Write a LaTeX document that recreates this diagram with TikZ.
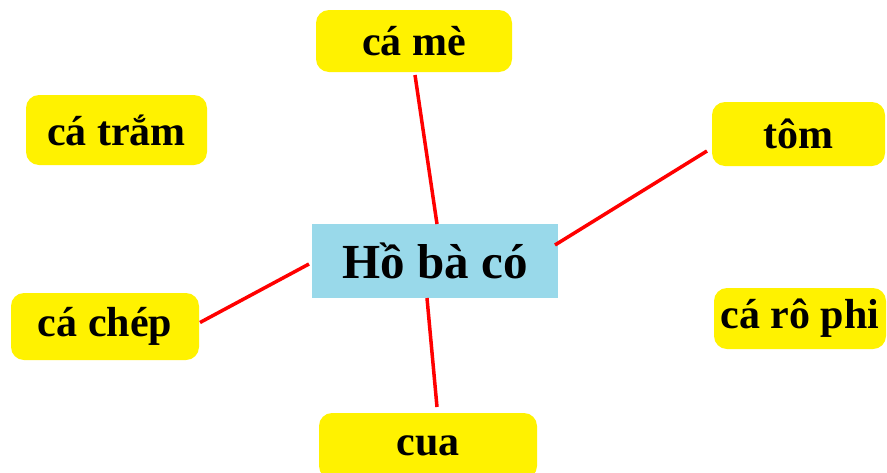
\documentclass[tikz,border=0pt]{standalone}
\usepackage{fontspec}
\setmainfont{Liberation Serif}
\usetikzlibrary{calc}
\definecolor{boxyellow}{RGB}{255,242,0}
\definecolor{boxblue}{RGB}{153,217,234}
\definecolor{linkred}{RGB}{255,0,0}
\tikzset{
  leaf/.style={fill=boxyellow, rounded corners=13pt, inner sep=0pt, outer sep=0pt,
    font=\fontsize{42}{48}\selectfont\bfseries},
  hub/.style={fill=boxblue, inner sep=0pt, outer sep=0pt,
    font=\fontsize{49}{56}\selectfont\bfseries},
  link/.style={draw=linkred, line width=3.5pt}
}
\begin{document}
\begin{tikzpicture}[x=1pt,y=-1pt]
\useasboundingbox (0,0) rectangle (887,472);
\clip (0,0) rectangle (887,472);
\node[hub, minimum width=246pt, minimum height=74pt] (ho) at (435,261) {Hồ bà có};
\node[leaf, minimum width=196pt, minimum height=62pt] (came) at (414,41) {cá mè};
\node[leaf, minimum width=181pt, minimum height=70pt] (tram) at (116.5,130) {cá trắm};
\node[leaf, minimum width=173pt, minimum height=64pt] (tom) at (798.5,134) {tôm};
\node[leaf, minimum width=188pt, minimum height=67pt] (chep) at (105,326.5) {cá chép};
\node[leaf, minimum width=172pt, minimum height=61pt] (rophi) at (800,318.5) {cá rô phi};
\node[leaf, minimum width=218pt, minimum height=66pt] (cua) at (428,446) {cua};
\draw[link] ($(came.south)+(1,3)$) -- ($(ho.north)+(2,0)$);
\draw[link] ($(tom.west)+(-5,17)$) -- ($(ho.east)+(-3,-16)$);
\draw[link] ($(chep.east)+(1,-4)$) -- ($(ho.west)+(-3,3)$);
\draw[link] ($(ho.south)+(-8,0)$) -- ($(cua.north)+(9,-6)$);
\end{tikzpicture}
\end{document}
